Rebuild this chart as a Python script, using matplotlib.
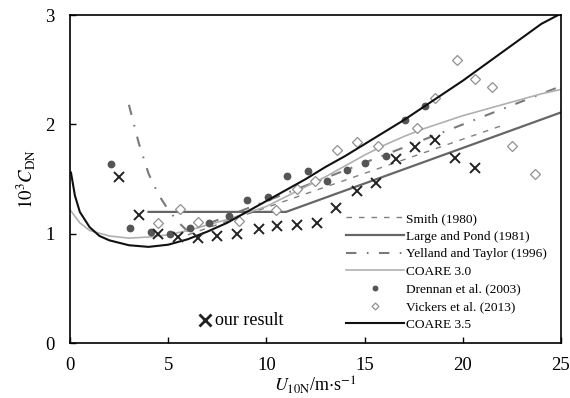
import matplotlib
matplotlib.use("Agg")
import matplotlib.pyplot as plt

plt.rcParams['font.family'] = ['Liberation Serif', 'DejaVu Serif']
plt.rcParams['mathtext.fontset'] = 'stix'

# Our bin-averaged drag coefficients
our_u = [2.5, 3.5, 4.5, 5.5, 6.5, 7.5, 8.5, 9.6, 10.55, 11.55, 12.6, 13.55,
         14.6, 15.6, 16.6, 17.55, 18.6, 19.6, 20.6]
our_cd = [1.52, 1.17, 1.00, 0.97, 0.96, 0.98, 1.00, 1.04, 1.07, 1.08, 1.10,
          1.24, 1.39, 1.46, 1.68, 1.79, 1.86, 1.69, 1.60]

# Drennan et al. (2003)
dre_u = [2.1, 3.05, 4.1, 5.1, 6.1, 7.1, 8.1, 9.0, 10.1, 11.05, 12.1, 13.1,
         14.1, 15.0, 16.1, 17.05, 18.1]
dre_cd = [1.64, 1.05, 1.02, 1.00, 1.05, 1.10, 1.16, 1.31, 1.34, 1.53, 1.57,
          1.48, 1.58, 1.65, 1.71, 2.04, 2.17]

# Vickers et al. (2013)
vic_u = [4.5, 5.6, 6.5, 8.6, 10.5, 11.55, 12.5, 13.6, 14.6, 15.7, 17.65,
         18.6, 19.7, 20.6, 21.5, 22.5, 23.7]
vic_cd = [1.10, 1.23, 1.11, 1.12, 1.22, 1.41, 1.48, 1.77, 1.84, 1.80, 1.97,
          2.24, 2.59, 2.42, 2.34, 1.80, 1.55]

# Parameterisations
smith_u = [6, 22]
smith_cd = [0.99, 1.99]

lp_u = [4, 11, 25]
lp_cd = [1.20, 1.20, 2.11]

yt_u = [3.0, 3.5, 4.0, 4.5, 5.0, 5.5, 6.0, 25.0]
yt_cd = [2.18, 1.83, 1.55, 1.36, 1.22, 1.11, 1.02, 2.35]

c30_u = [0.0, 0.5, 1, 2, 3, 4, 5, 6, 7, 8, 9, 10, 11, 12, 13, 14, 15, 16,
         17, 18, 19, 20, 21, 22, 23, 24, 25]
c30_cd = [1.22, 1.10, 1.03, 0.98, 0.96, 0.97, 0.99, 1.03, 1.08, 1.13, 1.19,
          1.25, 1.34, 1.43, 1.52, 1.62, 1.72, 1.81, 1.89, 1.96, 2.02, 2.08,
          2.13, 2.18, 2.23, 2.28, 2.32]

c35_u = [0.05, 0.25, 0.5, 1.0, 1.5, 2, 3, 4, 5, 6, 7, 8, 9, 10, 11, 12, 13,
         14, 15, 16, 17, 18, 19, 20, 21, 22, 23, 24, 24.85]
c35_cd = [1.56, 1.35, 1.20, 1.06, 0.98, 0.94, 0.895, 0.88, 0.90, 0.95, 1.02,
          1.10, 1.20, 1.30, 1.40, 1.50, 1.61, 1.71, 1.82, 1.93, 2.04, 2.16,
          2.28, 2.40, 2.53, 2.66, 2.79, 2.92, 3.00]

fig = plt.figure(figsize=(5.7, 3.98), dpi=100)
ax = fig.add_axes([0.1228, 0.138, 0.8614, 0.824])

h_smith, = ax.plot(smith_u, smith_cd, color='#808080', lw=1.0,
                   linestyle=(0, (4, 5)), label='Smith (1980)')
h_lp, = ax.plot(lp_u, lp_cd, color='#666666', lw=1.6,
                label='Large and Pond (1981)')
h_yt, = ax.plot(yt_u, yt_cd, color='#7a7a7a', lw=1.5,
                linestyle=(0, (5, 5, 0.8, 5)),
                label='Yelland and Taylor (1996)')
h_c30, = ax.plot(c30_u, c30_cd, color='#b0b0b0', lw=1.2, label='COARE 3.0')
h_dre, = ax.plot(dre_u, dre_cd, linestyle='none', marker='o', ms=4.6,
                 color='#555555', label='Drennan et al. (2003)')
h_vic, = ax.plot(vic_u, vic_cd, linestyle='none', marker='D', ms=5,
                 mfc='white', mec='#909090', mew=0.9,
                 label='Vickers et al. (2013)')
h_c35, = ax.plot(c35_u, c35_cd, color='#111111', lw=1.5, label='COARE 3.5')
ax.plot(our_u, our_cd, linestyle='none', marker='x', ms=7, mew=1.4,
        color='#222222')

leg = ax.legend(handles=[h_smith, h_lp, h_yt, h_c30, h_dre, h_vic, h_c35],
                loc='lower right', bbox_to_anchor=(0.995, 0.0), frameon=False,
                fontsize=9.6, handlelength=4.4, handletextpad=0.1,
                labelspacing=0.4, markerscale=0.7)

# key for our own data
ax.plot([0.275], [0.07], transform=ax.transAxes, marker='x', ms=9, mew=2,
        color='#222222', linestyle='none', clip_on=False)
ax.text(0.295, 0.07, 'our result', transform=ax.transAxes, fontsize=13,
        va='center', ha='left')

ax.set_xlim(0, 25)
ax.set_ylim(0, 3)
ax.set_xticks([0, 5, 10, 15, 20, 25])
ax.set_yticks([0, 1, 2, 3])
ax.tick_params(direction='in', labelsize=13.5, length=4, width=1,
               top=False, right=False)
ax.tick_params(axis='x', pad=10)
ax.tick_params(axis='y', pad=11)
for s in ax.spines.values():
    s.set_linewidth(1.2)

ax.set_xlabel(r'$\mathit{U}_{\rm 10N}$/m$\cdot$s$^{-1}$', fontsize=13,
              labelpad=0)
ax.set_ylabel(r'$10^3\mathit{C}_{\rm DN}$', fontsize=13.5, labelpad=6)

fig.savefig('out.png', dpi=100)
